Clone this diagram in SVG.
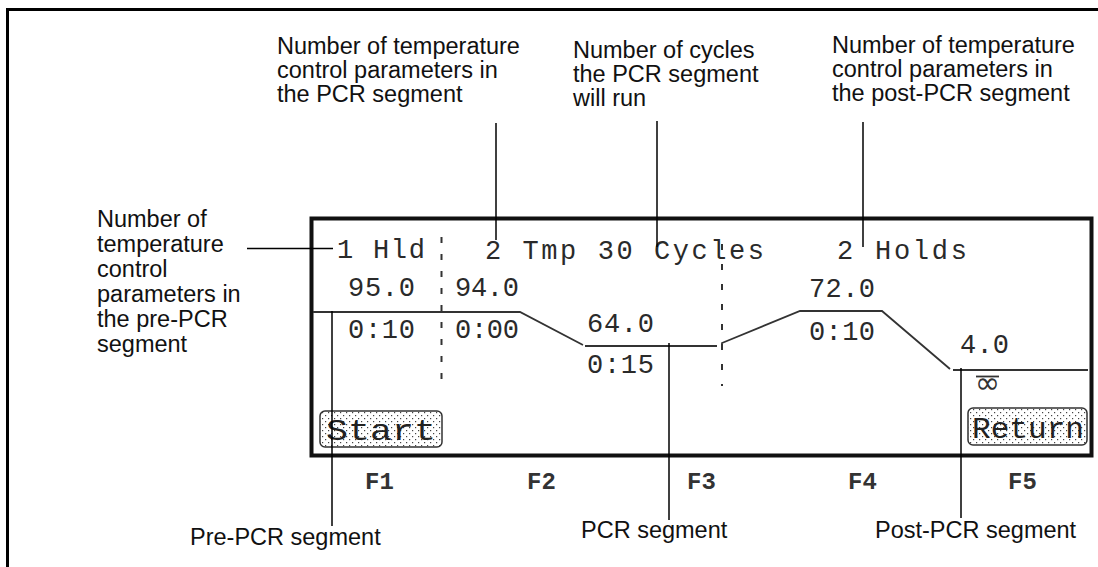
<svg xmlns="http://www.w3.org/2000/svg" width="1098" height="567" viewBox="0 0 1098 567">
<defs>
<style>
.lbl{font-family:"Liberation Sans",Arial,sans-serif;font-size:23.5px;fill:#111}
.scr{font-family:"Liberation Mono","DejaVu Sans Mono",monospace;font-size:27px;fill:#2a2a2a}
.fk{font-family:"Liberation Mono","DejaVu Sans Mono",monospace;font-size:24px;font-weight:bold;fill:#333}
.btn{font-family:"Liberation Mono","DejaVu Sans Mono",monospace;font-size:30px;fill:#222}
.lead{stroke:#000;stroke-width:1.5;fill:none}
.prof{stroke:#333;stroke-width:1.8;fill:none}
.dash{stroke:#333;stroke-width:2;fill:none}
</style>
<pattern id="dots" width="6" height="6" patternUnits="userSpaceOnUse">
<rect width="6" height="6" fill="#fff"/>
<rect x="1" y="1" width="1.2" height="1.2" fill="#444"/>
<rect x="4" y="4" width="1.2" height="1.2" fill="#444"/>
</pattern>
</defs>
<rect width="1098" height="567" fill="#fff"/>
<g id="frame">
<path d="M7.5 567 V9.5 H1098" stroke="#000" stroke-width="3" fill="none"/>
</g>
<g id="screen">
<rect x="311.5" y="218.5" width="780" height="237" fill="#fff" stroke="#111" stroke-width="4"/>
<g id="header">
<text class="scr" x="337" y="258" textLength="88" lengthAdjust="spacing">1 Hld</text>
<text class="scr" x="485" y="259" textLength="279" lengthAdjust="spacing">2 Tmp 30 Cycles</text>
<text class="scr" x="837" y="259" textLength="130" lengthAdjust="spacing">2 Holds</text>
</g>
<g id="profile">
<polyline class="prof" points="313,312 520,312 583,345"/>
<line class="prof" x1="585" y1="346" x2="717" y2="346"/>
<polyline class="prof" points="722,350 722,343 800,311 882,311 950,369"/>
<line class="prof" x1="953" y1="370" x2="1088" y2="370"/>
<line class="dash" x1="441.5" y1="237" x2="441.5" y2="379" stroke-dasharray="6 11"/>
<line class="dash" x1="722" y1="244" x2="722" y2="386" stroke-dasharray="6 14"/>
</g>
<g id="values">
<text class="scr" x="348" y="296" textLength="67" lengthAdjust="spacing">95.0</text>
<text class="scr" x="455" y="296" textLength="64" lengthAdjust="spacing">94.0</text>
<text class="scr" x="587" y="332" textLength="67" lengthAdjust="spacing">64.0</text>
<text class="scr" x="809" y="297" textLength="66" lengthAdjust="spacing">72.0</text>
<text class="scr" x="960" y="353" textLength="49" lengthAdjust="spacing">4.0</text>
<text class="scr" x="348" y="338" textLength="67" lengthAdjust="spacing">0:10</text>
<text class="scr" x="455" y="338" textLength="64" lengthAdjust="spacing">0:00</text>
<text class="scr" x="587" y="373" textLength="67" lengthAdjust="spacing">0:15</text>
<text class="scr" x="809" y="340" textLength="66" lengthAdjust="spacing">0:10</text>
<text x="987.5" y="393" text-anchor="middle" style="font-family:'DejaVu Sans',sans-serif;font-size:30px;fill:#333">∞</text>
<line x1="976" y1="376.5" x2="999" y2="376.5" stroke="#333" stroke-width="1.8"/>
</g>
<g id="btn-start">
<rect x="320" y="411" width="122" height="36" rx="5" fill="url(#dots)" stroke="#333" stroke-width="1.5"/>
<text class="btn" x="326" y="440" textLength="110" lengthAdjust="spacingAndGlyphs">Start</text>
</g>
<g id="btn-return">
<rect x="968" y="408" width="119" height="37" rx="5" fill="url(#dots)" stroke="#333" stroke-width="1.5"/>
<text class="btn" x="972" y="438" textLength="112" lengthAdjust="spacingAndGlyphs">Return</text>
</g>
</g>
<g id="fkeys">
<text class="fk" x="365" y="489">F1</text>
<text class="fk" x="527" y="489">F2</text>
<text class="fk" x="687" y="489">F3</text>
<text class="fk" x="848" y="489">F4</text>
<text class="fk" x="1008" y="489">F5</text>
</g>
<g id="connectors">
<line class="lead" x1="247" y1="248.5" x2="333" y2="248.5"/>
<line class="lead" x1="496" y1="123" x2="496" y2="240"/>
<line class="lead" x1="657" y1="121" x2="657" y2="247"/>
<line class="lead" x1="863" y1="122" x2="863" y2="247"/>
<line class="lead" x1="332" y1="311" x2="332" y2="526"/>
<line class="lead" x1="669" y1="343" x2="669" y2="520"/>
<line class="lead" x1="961" y1="368" x2="961" y2="518"/>
</g>
<g id="label-pre-count">
<text class="lbl" x="97" y="227">Number of</text>
<text class="lbl" x="97" y="252">temperature</text>
<text class="lbl" x="97" y="277">control</text>
<text class="lbl" x="97" y="302">parameters in</text>
<text class="lbl" x="97" y="327">the pre-PCR</text>
<text class="lbl" x="97" y="352">segment</text>
</g>
<g id="label-pcr-count">
<text class="lbl" x="277" y="54">Number of temperature</text>
<text class="lbl" x="277" y="78">control parameters in</text>
<text class="lbl" x="277" y="102">the PCR segment</text>
</g>
<g id="label-cycles">
<text class="lbl" x="573" y="58">Number of cycles</text>
<text class="lbl" x="573" y="82">the PCR segment</text>
<text class="lbl" x="573" y="106">will run</text>
</g>
<g id="label-post-count">
<text class="lbl" x="832" y="53">Number of temperature</text>
<text class="lbl" x="832" y="77">control parameters in</text>
<text class="lbl" x="832" y="101">the post-PCR segment</text>
</g>
<g id="label-pre">
<text class="lbl" x="190" y="545">Pre-PCR segment</text>
</g>
<g id="label-pcr">
<text class="lbl" x="581" y="538">PCR segment</text>
</g>
<g id="label-post">
<text class="lbl" x="875" y="538">Post-PCR segment</text>
</g>
</svg>
